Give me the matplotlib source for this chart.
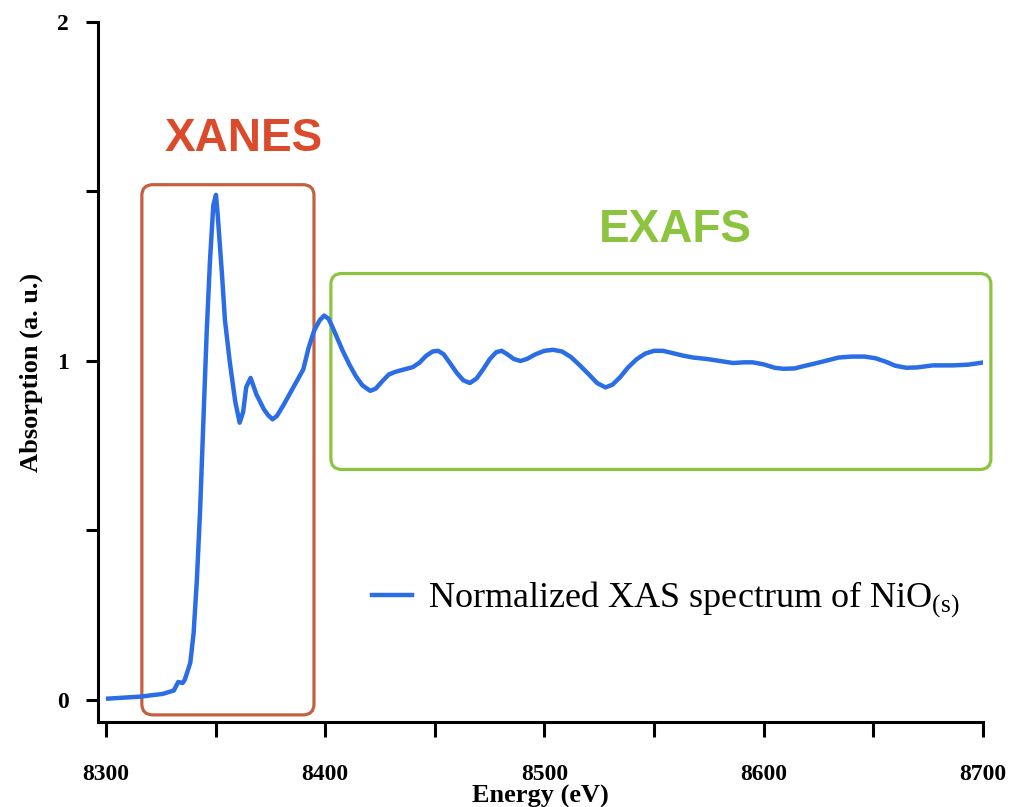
import numpy as np
import matplotlib.pyplot as plt
from matplotlib.patches import FancyBboxPatch

# --- NiO K-edge XAS spectrum ---
energy = [8301, 8316, 8326, 8331, 8333, 8335, 8336, 8338.5, 8340, 8341.5,
          8343, 8344.5, 8346, 8347.5, 8349, 8350.2, 8351, 8353, 8354.3, 8356.5,
          8359, 8361, 8362.6, 8364, 8366, 8368.6, 8372, 8374, 8376, 8378,
          8381, 8384, 8387, 8390, 8392.5, 8395, 8397.5, 8399.5, 8401.5, 8403,
          8405, 8408, 8411, 8414, 8417, 8420.5, 8423, 8426, 8429, 8432,
          8436, 8440, 8443, 8446, 8449, 8451.5, 8454, 8457, 8460, 8463,
          8466, 8469, 8472, 8475, 8478, 8480.5, 8483, 8486, 8489, 8492,
          8496, 8500, 8504, 8508, 8512, 8516, 8520, 8524, 8527.8, 8531,
          8534.5, 8538, 8542, 8546, 8550, 8554, 8558, 8563, 8568, 8574,
          8580, 8586, 8591, 8595, 8600, 8605, 8609, 8614, 8619, 8623,
          8628, 8634, 8640, 8646, 8651, 8656, 8660, 8665, 8670, 8677,
          8686, 8693, 8699.5]
absorption = [0.004, 0.01, 0.018, 0.028, 0.053, 0.05, 0.06, 0.11, 0.197, 0.355,
              0.565, 0.83, 1.09, 1.30, 1.46, 1.49, 1.43, 1.25, 1.12, 0.997,
              0.88, 0.818, 0.85, 0.923, 0.95, 0.902, 0.858, 0.84, 0.828, 0.838,
              0.87, 0.905, 0.94, 0.975, 1.04, 1.09, 1.12, 1.134, 1.125, 1.105,
              1.075, 1.03, 0.99, 0.955, 0.928, 0.912, 0.918, 0.94, 0.96, 0.968,
              0.975, 0.982, 0.995, 1.015, 1.028, 1.03, 1.02, 0.993, 0.965, 0.943,
              0.935, 0.948, 0.975, 1.005, 1.026, 1.03, 1.02, 1.006, 1.0, 1.006,
              1.02, 1.03, 1.033, 1.028, 1.012, 0.988, 0.962, 0.935, 0.922, 0.93,
              0.952, 0.98, 1.005, 1.022, 1.03, 1.03, 1.024, 1.016, 1.01, 1.006,
              1.0, 0.994, 0.996, 0.996, 0.99, 0.98, 0.977, 0.978, 0.986, 0.992,
              1.0, 1.01, 1.013, 1.013, 1.008, 0.997, 0.986, 0.98, 0.981, 0.987,
              0.987, 0.989, 0.995]

xanes_box = (8316.4, -0.044, 8394.9, 1.52)   # x0, y0, x1, y1
exafs_box = (8402.6, 0.680, 8703.6, 1.258)

x_ticks = [8300, 8400, 8500, 8600, 8700]
y_ticks = [0, 1, 2]

LINE = "#2b6de6"
RED_BOX = "#c4603f"
RED_TXT = "#db4a2a"
GREEN = "#8dc43f"

plt.rcParams["font.family"] = ["Liberation Serif", "DejaVu Serif"]
plt.rcParams["font.weight"] = "bold"
plt.rcParams["axes.labelweight"] = "bold"
plt.rcParams["mathtext.default"] = "regular"

fig = plt.figure(figsize=(10.11, 8.07), dpi=100)
ax = fig.add_axes([98 / 1011, 1 - 722 / 807, 885 / 1011, 700 / 807])

ax.plot(energy, absorption, color=LINE, lw=3.2, solid_joinstyle="round",
        label="Normalized XAS spectrum of NiO$_{(s)}$")

ax.set_xlim(8296.4, 8700)
ax.set_ylim(-0.065, 2.0)

xt = list(range(8300, 8701, 50))
ax.set_xticks(xt)
ax.set_xticklabels([str(t) if t in x_ticks else "" for t in xt])
yt = [0, 0.5, 1, 1.5, 2]
ax.set_yticks(yt)
ax.set_yticklabels([str(int(t)) if t in y_ticks else "" for t in yt])

for s in ["top", "right"]:
    ax.spines[s].set_visible(False)
for s in ["left", "bottom"]:
    ax.spines[s].set_linewidth(2.2)
ax.tick_params(direction="out", width=2.2, length=9, labelsize=17, pad=12)
ax.tick_params(axis="x", length=11, pad=19)

ax.set_xlabel("Energy (eV)", fontsize=19, labelpad=0)
ax.set_ylabel("Absorption (a. u.)", fontsize=19, labelpad=10)

# rounded region boxes, corner radius in pixel-like proportions
x_per_px = 400 / 877
y_per_px = 1 / 339.5
aspect = y_per_px / x_per_px
for (x0, y0, x1, y1), col in [(xanes_box, RED_BOX), (exafs_box, GREEN)]:
    box = FancyBboxPatch((x0, y0), x1 - x0, y1 - y0,
                         boxstyle="round,pad=0,rounding_size=5",
                         mutation_aspect=aspect, fill=False,
                         edgecolor=col, lw=2.3, clip_on=False)
    ax.add_patch(box)

ax.text(8362.8, 1.655, "XANES", color=RED_TXT, fontsize=33, fontweight="bold",
        fontfamily="Liberation Sans", ha="center", va="center")
ax.text(8559.5, 1.387, "EXAFS", color=GREEN, fontsize=33, fontweight="bold",
        fontfamily="Liberation Sans", ha="center", va="center")

ax.legend(loc="center left", bbox_to_anchor=(0.31, 0.174), frameon=False,
          borderpad=0, borderaxespad=0, handlelength=1.1, handletextpad=0.45,
          prop={"family": "Liberation Serif", "weight": "normal", "size": 26})

fig.savefig("out.png", dpi=100)
